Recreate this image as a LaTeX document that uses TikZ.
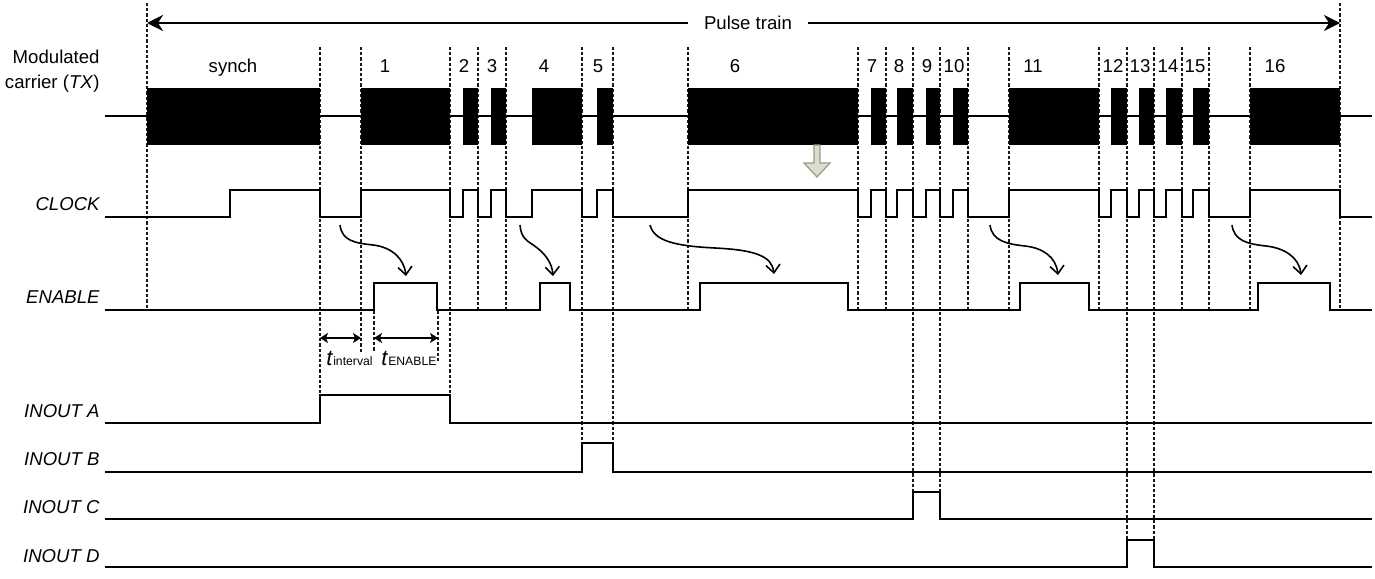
\documentclass[tikz,border=0pt]{standalone}
\usepackage{fontspec}
\setmainfont{Liberation Sans}
\usetikzlibrary{arrows.meta, positioning, calc}
\definecolor{tdblack}{HTML}{000000}
\definecolor{tdgrid}{HTML}{1A1A1A}
\definecolor{tdhintfill}{HTML}{DCDCCB}
\definecolor{tdhintdraw}{HTML}{9A9A8A}

\begin{document}
\begin{tikzpicture}[
    x=0.5pt, y=-0.5pt,
    wave/.style={line width=1.4pt, color=tdblack},
    guide/.style={line width=0.6pt, color=tdgrid, dash pattern=on 1.6pt off 1pt},
    siglabel/.style={font=\fontsize{9.3}{11}\selectfont\itshape, anchor=base east, inner sep=0pt},
    slotlabel/.style={font=\fontsize{9.3}{11}\selectfont, anchor=base, inner sep=0pt},
    burst/.style={fill=tdblack},
    trainarrow/.style={-{Stealth[length=8pt, width=8pt, inset=2.5pt]}, line width=1pt},
    measure/.style={{Stealth[length=4pt, width=5pt, inset=1pt]}-{Stealth[length=4pt, width=5pt, inset=1pt]}, line width=0.7pt},
    causal/.style={-{Straight Barb[length=4pt, width=7pt]}, line width=0.8pt}
]
\useasboundingbox (0,0) rectangle (1375,578);

% Guide lines
\draw[guide] (147,3) -- (147,310);
\draw[guide] (1340,3) -- (1340,310);
\foreach \x in {478,506,688,858,886,968,1009,1099,1182,1209,1250}
  \draw[guide] (\x,47) -- (\x,310);
\draw[guide] (320,47) -- (320,395);
\draw[guide] (450,47) -- (450,395);
\draw[guide] (361,47) -- (361,352);
\draw[guide] (374,311) -- (374,352);
\draw[guide] (438,311) -- (438,362);
\draw[guide] (582,47) -- (582,443);
\draw[guide] (613,47) -- (613,443);
\draw[guide] (913,47) -- (913,492);
\draw[guide] (940,47) -- (940,492);
\draw[guide] (1127,47) -- (1127,540);
\draw[guide] (1154,47) -- (1154,540);

% Pulse train span
\node[font=\fontsize{9.3}{11}\selectfont, inner xsep=8pt, inner ysep=0pt] (ptrain) at (748,23) {Pulse train};
\coordinate (trainL) at (147,23);
\coordinate (trainR) at (1340,23);
\draw[trainarrow] (ptrain) -- (trainL);
\draw[trainarrow] (ptrain) -- (trainR);

% Slot numbers
\foreach \x/\t in {233/synch, 385/1, 464/2, 492/3, 544/4, 598/5, 735/6, 872/7, 899/8, 927/9, 954/10, 1033/11, 1113/12, 1140/13, 1168/14, 1195/15, 1275/16}
  \node[slotlabel] (slot-\t) at (\x,72) {\t};

% Signal names
\node[font=\fontsize{9.3}{12.5}\selectfont, align=right, anchor=base east, inner sep=0pt] (txname) at (100,88) {Modulated\\carrier (\textit{TX})};
\node[siglabel] (clkname) at (100,210) {CLOCK};
\node[siglabel] (enname) at (100,303) {ENABLE};
\node[siglabel] (ioaname) at (100,417) {INOUT A};
\node[siglabel] (iobname) at (100,465) {INOUT B};
\node[siglabel] (iocname) at (100,513) {INOUT C};
\node[siglabel] (iodname) at (100,562) {INOUT D};

% Modulated carrier
\draw[wave] (105,116) -- (1372,116);
\foreach \a/\b in {147/320, 361/450, 463/478, 491/506, 532/582, 597/613, 688/858, 871/886, 897/913, 926/940, 953/968, 1009/1099, 1111/1127, 1139/1154, 1166/1182, 1193/1209, 1250/1340}
  \fill[burst] (\a,88) rectangle (\b,145);

% Hint arrow
\filldraw[fill=tdhintfill, draw=tdhintdraw, line width=0.6pt]
  (814,145) -- (820,145) -- (820,163) -- (830,163) -- (817,177) -- (804,163) -- (814,163) -- cycle;

% CLOCK
\draw[wave] (105,217)
  foreach \a/\b in {230/320, 361/450, 463/478, 491/506, 532/582, 597/613, 688/858, 871/886, 897/913, 926/940, 953/968, 1009/1099, 1111/1127, 1139/1154, 1166/1182, 1193/1209, 1250/1340}
  { -| (\a,190) -| (\b,217) } -- (1372,217);

% ENABLE
\draw[wave] (105,310)
  foreach \a/\b in {374/437, 540/570, 700/848, 1020/1089, 1258/1330}
  { -| (\a,283) -| (\b,310) } -- (1372,310);

% Clock to enable
\coordinate (cs1) at (340,225); \coordinate (cm1) at (373,245); \coordinate (ce1) at (406,276);
\coordinate (cs2) at (520,225); \coordinate (cm2) at (536,247); \coordinate (ce2) at (553,276);
\coordinate (cs3) at (650,225); \coordinate (cm3) at (715,248); \coordinate (ce3) at (774,274);
\coordinate (cs4) at (990,225); \coordinate (cm4) at (1025,246); \coordinate (ce4) at (1058,275);
\coordinate (cs5) at (1232,225); \coordinate (cm5) at (1266,246); \coordinate (ce5) at (1301,275);
\draw[causal] (cs1) .. controls +(2,16) and +(-18,-2) .. (cm1) .. controls +(18,2) and +(-2,-18) .. (ce1);
\draw[causal] (cs2) .. controls +(1,14) and +(-8,-6) .. (cm2) .. controls +(8,6) and +(-1,-14) .. (ce2);
\draw[causal] (cs3) .. controls +(4,16) and +(-40,-2) .. (cm3) .. controls +(40,2) and +(-2,-18) .. (ce3);
\draw[causal] (cs4) .. controls +(2,16) and +(-18,-2) .. (cm4) .. controls +(18,2) and +(-2,-18) .. (ce4);
\draw[causal] (cs5) .. controls +(2,16) and +(-18,-2) .. (cm5) .. controls +(18,2) and +(-2,-18) .. (ce5);

% Timing marks
\coordinate (tiL) at (320,338); \coordinate (tiR) at (361,338);
\coordinate (teL) at (374,338); \coordinate (teR) at (438,338);
\draw[measure] (tiL) -- (tiR);
\draw[measure] (teL) -- (teR);
\node[anchor=base west, inner sep=0pt] (tint) at (326,365)
  {{\fontsize{11}{12}\selectfont\textit{t}}{\fontsize{6.1}{7}\selectfont interval}};
\node[anchor=base west, inner sep=0pt] (tenab) at (381,365)
  {{\fontsize{11}{12}\selectfont\textit{t}}{\fontsize{6.1}{7}\selectfont ENABLE}};

% INOUT lines
\draw[wave] (105,423) -| (320,395) -| (450,423) -- (1372,423);
\draw[wave] (105,472) -| (582,443) -| (613,472) -- (1372,472);
\draw[wave] (105,519) -| (913,492) -| (940,519) -- (1372,519);
\draw[wave] (105,567) -| (1127,540) -| (1154,567) -- (1372,567);

\end{tikzpicture}
\end{document}
